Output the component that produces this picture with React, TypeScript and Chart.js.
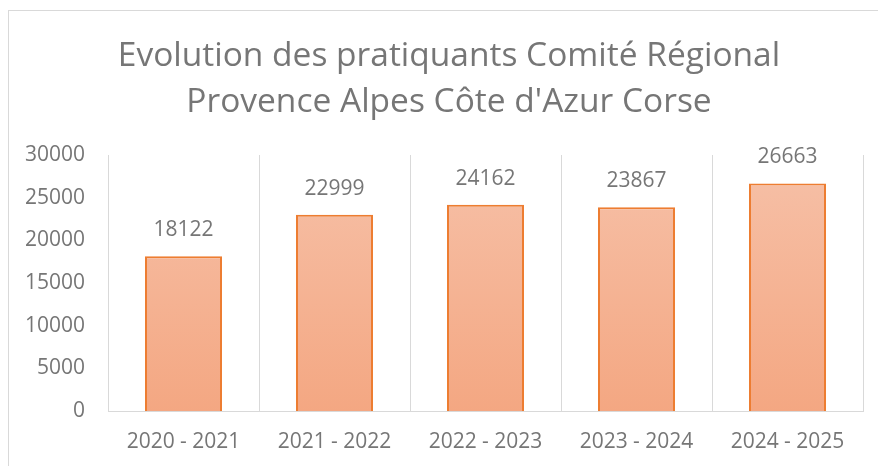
import React, { useEffect, useRef } from "react";
import { Chart, registerables } from "chart.js";

Chart.register(...registerables);

const titleLines = ["Evolution des pratiquants Comité Régional", "Provence Alpes Côte d'Azur Corse"];
const seasons = ["2020 - 2021", "2021 - 2022", "2022 - 2023", "2023 - 2024", "2024 - 2025"];
const practitioners = [18122, 22999, 24162, 23867, 26663];
const yTicks = [0, 5000, 10000, 15000, 20000, 25000, 30000];

const TEXT = "#767676";
const GRID = "#d9d9d9";
const FONT = "'Open Sans', sans-serif";

const gradientPlugin = {
  id: "barGradient",
  beforeDatasetsDraw(chart: any) {
    const ctx = chart.ctx;
    const meta = chart.getDatasetMeta(0);
    meta.data.forEach((bar: any) => {
      const top = Math.min(bar.y, bar.base);
      const bottom = Math.max(bar.y, bar.base);
      const g = ctx.createLinearGradient(0, top, 0, bottom);
      g.addColorStop(0, "#F6BEA4");
      g.addColorStop(1, "#F4A782");
      bar.options.backgroundColor = g;
    });
  },
};

const labelPlugin = {
  id: "valueLabels",
  afterDatasetsDraw(chart: any) {
    const ctx = chart.ctx;
    const meta = chart.getDatasetMeta(0);
    const data = chart.data.datasets[0].data;
    ctx.save();
    ctx.fillStyle = TEXT;
    ctx.font = `21px ${FONT}`;
    ctx.textAlign = "center";
    ctx.textBaseline = "middle";
    meta.data.forEach((bar: any, i: number) => {
      ctx.fillText(String(data[i]), bar.x, bar.y - 26);
    });
    ctx.restore();
  },
};

const titlePlugin = {
  id: "centeredTitle",
  afterDraw(chart: any) {
    const ctx = chart.ctx;
    ctx.save();
    ctx.fillStyle = TEXT;
    ctx.font = `33.5px ${FONT}`;
    ctx.textAlign = "center";
    ctx.textBaseline = "middle";
    const cx = (chart.chartArea.left + chart.chartArea.right) / 2 - 36.5;
    const top = chart.chartArea.top;
    ctx.fillText(titleLines[0], cx, top - 98.5);
    ctx.fillText(titleLines[1], cx, top - 53);
    ctx.restore();
  },
};

export default function App() {
  const ref = useRef<HTMLCanvasElement | null>(null);

  useEffect(() => {
    if (!ref.current) return;
    const chart = new Chart(ref.current, {
      type: "bar",
      data: {
        labels: seasons,
        datasets: [
          {
            data: practitioners,
            backgroundColor: "#F5B090",
            borderColor: "#ED7D31",
            borderWidth: 2,
            categoryPercentage: 1,
            barPercentage: 0.51,
          },
        ],
      },
      options: {
        animation: false,
        responsive: false,
        maintainAspectRatio: false,
        layout: { padding: { left: 0, right: 15, top: 155, bottom: 0 } },
        plugins: {
          legend: { display: false },
          tooltip: { enabled: false },
          title: { display: false },
        },
        scales: {
          x: {
            grid: { display: true, color: GRID, lineWidth: 1, drawTicks: false, offset: true },
            border: { display: true, color: GRID, width: 1 },
            ticks: { color: TEXT, font: { family: FONT, size: 21 }, padding: 18, maxRotation: 0 },
            afterFit(scale: any) {
              scale.height = 55;
            },
          },
          y: {
            min: 0,
            max: 30000,
            afterBuildTicks(scale: any) {
              scale.ticks = yTicks.map((v) => ({ value: v }));
            },
            grid: { display: false, drawTicks: false },
            border: { display: false },
            ticks: {
              color: TEXT,
              font: { family: FONT, size: 21 },
              padding: 23,
              callback: (v: any) => String(v),
            },
            afterFit(scale: any) {
              scale.width = 108;
            },
          },
        },
      },
      plugins: [gradientPlugin, labelPlugin, titlePlugin],
    });
    return () => chart.destroy();
  }, []);

  return (
    <div
      style={{
        position: "fixed",
        left: 0,
        top: 0,
        width: 878,
        height: 466,
        overflow: "hidden",
        background: "#fff",
      }}
    >
      <div
        style={{
          position: "absolute",
          left: 8,
          top: 10,
          width: 1000,
          height: 1000,
          border: "1px solid #d9d9d9",
          boxSizing: "border-box",
        }}
      />
      <canvas
        ref={ref}
        width={878}
        height={466}
        style={{ position: "absolute", left: 0, top: 0, width: 878, height: 466 }}
      />
    </div>
  );
}
